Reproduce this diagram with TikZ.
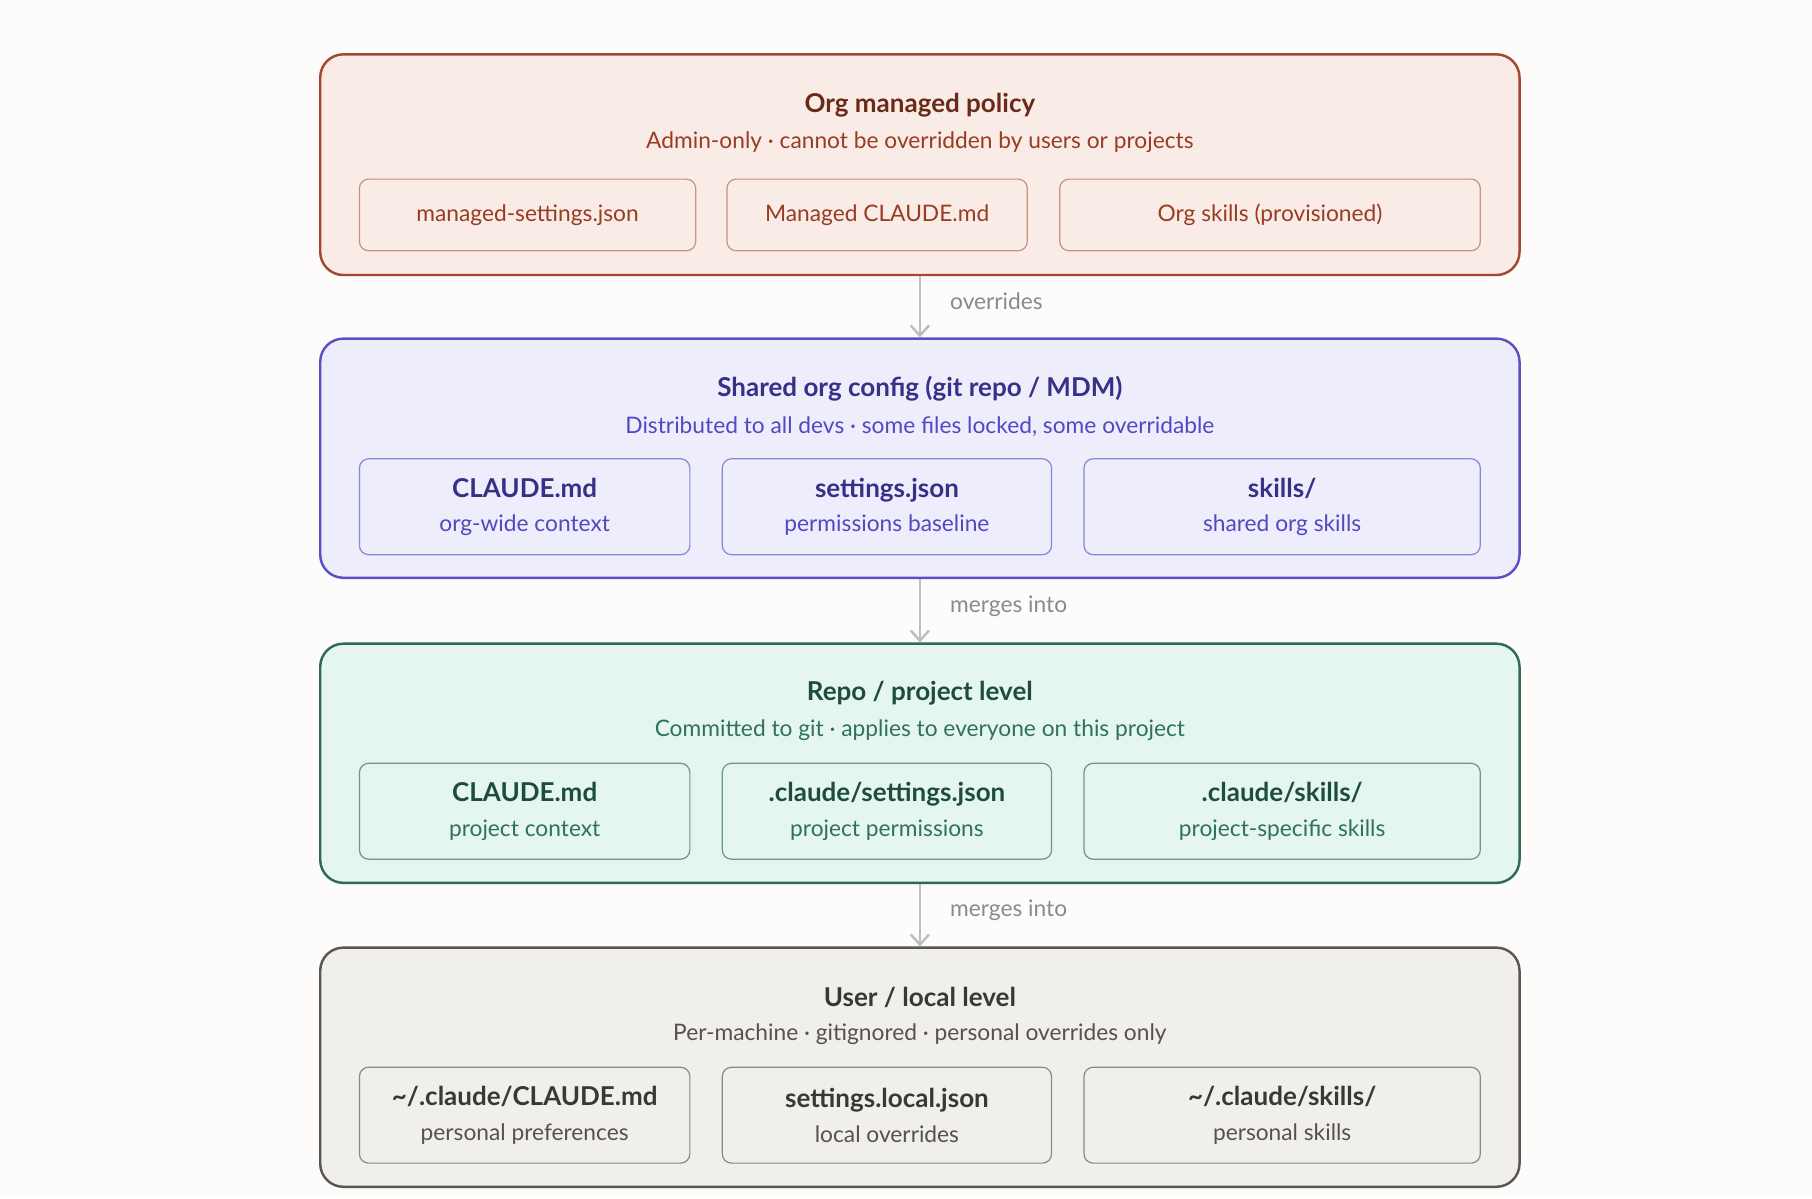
\documentclass[tikz,border=0pt]{standalone}
\usepackage{fontspec}
\setmainfont{Lato}
\usetikzlibrary{positioning,arrows.meta}
\definecolor{bgpaper}{HTML}{FDFCFA}
\definecolor{orgfill}{HTML}{F9ECE7}\definecolor{orgline}{HTML}{A4472F}
\definecolor{orgtitle}{HTML}{6B2A17}\definecolor{orgtext}{HTML}{9A3B22}
\definecolor{shfill}{HTML}{EEEDFC}\definecolor{shline}{HTML}{5B4FC4}
\definecolor{shtitle}{HTML}{3A2F86}\definecolor{shtext}{HTML}{5546C2}
\definecolor{repofill}{HTML}{E5F5EF}\definecolor{repoline}{HTML}{2E6B52}
\definecolor{repotitle}{HTML}{1E4D3A}\definecolor{repotext}{HTML}{2F7356}
\definecolor{usrfill}{HTML}{F1EFEA}\definecolor{usrline}{HTML}{5A5753}
\definecolor{usrtitle}{HTML}{3A3835}\definecolor{usrtext}{HTML}{55524D}
\definecolor{flowgray}{HTML}{BDBDBD}\definecolor{flowtext}{HTML}{8A8A8A}

\begin{document}
\begin{tikzpicture}[x=0.02cm,y=-0.02cm,
    level box/.style={draw,line width=1.2pt,rounded corners=0.4cm,minimum width=20.76cm},
    file box/.style={draw,line width=0.6pt,rounded corners=0.16cm,align=center,
        font=\fontsize{11.2}{17}\selectfont},
    title/.style={font=\fontsize{12.8}{15}\selectfont\bfseries},
    subtitle/.style={font=\fontsize{11.2}{14}\selectfont},
    flow/.style={draw=flowgray,line width=1.2pt,-{Straight Barb[length=5pt,width=9pt]}},
    flow label/.style={text=flowtext,font=\fontsize{11.2}{14}\selectfont,anchor=west}]
\fill[bgpaper] (0,0) rectangle (1568,1037);
\useasboundingbox (0,0) rectangle (1568,1037);
%Org level
\node[level box,draw=orgline,fill=orgfill,minimum height=3.82cm] (org) at (796,142.5) {};
\node[title,text=orgtitle] (orgT) at (796,91) {Org managed policy};
\node[subtitle,text=orgtext] (orgS) at (796,123) {Admin-only · cannot be overridden by users or projects};
\tikzset{file box/.append style={draw=orgline!60,fill=orgfill,text=orgtext,minimum height=1.24cm}}
\node[file box,minimum width=5.82cm] (orgA) at (456.5,186) {managed-settings.json};
\node[file box,minimum width=5.2cm] (orgB) at (759,186) {Managed CLAUDE.md};
\node[file box,minimum width=7.28cm] (orgC) at (1099,186) {Org skills (provisioned)};
%Shared level
\begin{scope}[file box/.append style={draw=shline!70,fill=shfill,text=shtext,minimum height=1.66cm}]
\node[level box,draw=shline,fill=shfill,minimum height=4.14cm] (sh) at (796,396.5) {};
\node[title,text=shtitle] (shT) at (796,336) {Shared org config (git repo / MDM)};
\node[subtitle,text=shtext] (shS) at (796,369) {Distributed to all devs · some files locked, some overridable};
\node[file box,minimum width=5.72cm] (shA) at (454,438.5) {{\fontsize{12.8}{15}\selectfont\bfseries\color{shtitle}CLAUDE.md}\\org-wide context};
\node[file box,minimum width=5.7cm] (shB) at (767.5,438.5) {{\fontsize{12.8}{15}\selectfont\bfseries\color{shtitle}settings.json}\\permissions baseline};
\node[file box,minimum width=6.86cm] (shC) at (1109.5,438.5) {{\fontsize{12.8}{15}\selectfont\bfseries\color{shtitle}skills/}\\shared org skills};
\end{scope}
%Repo level
\begin{scope}[file box/.append style={draw=repoline!70,fill=repofill,text=repotext,minimum height=1.66cm}]
\node[level box,draw=repoline,fill=repofill,minimum height=4.14cm] (repo) at (796,660.5) {};
\node[title,text=repotitle] (repoT) at (796,600) {Repo / project level};
\node[subtitle,text=repotext] (repoS) at (796,632) {Committed to git · applies to everyone on this project};
\node[file box,minimum width=5.72cm] (repoA) at (454,702) {{\fontsize{12.8}{15}\selectfont\bfseries\color{repotitle}CLAUDE.md}\\project context};
\node[file box,minimum width=5.7cm] (repoB) at (767.5,702) {{\fontsize{12.8}{15}\selectfont\bfseries\color{repotitle}.claude/settings.json}\\project permissions};
\node[file box,minimum width=6.86cm] (repoC) at (1109.5,702) {{\fontsize{12.8}{15}\selectfont\bfseries\color{repotitle}.claude/skills/}\\project-specific skills};
\end{scope}
%User level
\begin{scope}[file box/.append style={draw=usrline!70,fill=usrfill,text=usrtext,minimum height=1.66cm}]
\node[level box,draw=usrline,fill=usrfill,minimum height=4.14cm] (usr) at (796,923.5) {};
\node[title,text=usrtitle] (usrT) at (796,863) {User / local level};
\node[subtitle,text=usrtext] (usrS) at (796,895) {Per-machine · gitignored · personal overrides only};
\node[file box,minimum width=5.72cm] (usrA) at (454,965) {{\fontsize{12.8}{15}\selectfont\bfseries\color{usrtitle}\char`~/.claude/CLAUDE.md}\\personal preferences};
\node[file box,minimum width=5.7cm] (usrB) at (767.5,965) {{\fontsize{12.8}{15}\selectfont\bfseries\color{usrtitle}settings.local.json}\\local overrides};
\node[file box,minimum width=6.86cm] (usrC) at (1109.5,965) {{\fontsize{12.8}{15}\selectfont\bfseries\color{usrtitle}\char`~/.claude/skills/}\\personal skills};
\end{scope}
%Flow
\draw[flow] (org.south) -- (sh.north);
\draw[flow] (sh.south) -- (repo.north);
\draw[flow] (repo.south) -- (usr.north);
\node[flow label] (l1) at (816,261) {overrides};
\node[flow label] (l2) at (816,525) {merges into};
\node[flow label] (l3) at (816,788) {merges into};
\end{tikzpicture}
\end{document}
